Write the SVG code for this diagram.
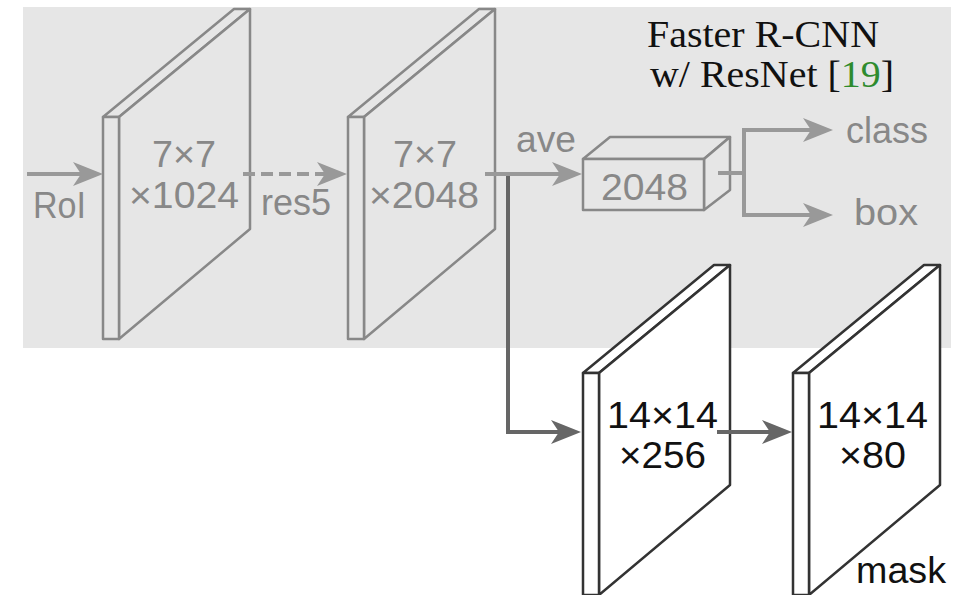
<svg xmlns="http://www.w3.org/2000/svg" width="961" height="595" viewBox="0 0 961 595">
<style>
  .bg { fill: #e6e6e6; }
  .slabG { fill: #e6e6e6; stroke: #888; stroke-width: 2.5; stroke-linejoin: round; }
  .slabW { fill: #ffffff; stroke: #333; stroke-width: 2.5; stroke-linejoin: round; }
  .boxG { fill: #e6e6e6; stroke: #888; stroke-width: 2.5; stroke-linejoin: round; }
  .tg { font-family: "Liberation Sans", Arial, sans-serif; font-size: 36px; fill: #888; }
  .tk { font-family: "Liberation Sans", Arial, sans-serif; font-size: 36px; fill: #111; }
  .title { font-family: "Liberation Serif", "Times New Roman", serif; font-size: 37px; fill: #111; }
  .lg { fill: none; stroke: #999; stroke-width: 4; }
  .ld { fill: none; stroke: #666; stroke-width: 4; }
</style>
<defs>
  <marker id="ahG" markerUnits="userSpaceOnUse" viewBox="0 0 30 24" markerWidth="30" markerHeight="24" refX="8" refY="12" orient="auto">
    <path d="M0,0 L30,12 L0,24 L8,12 Z" fill="#999"/>
  </marker>
  <marker id="ahD" markerUnits="userSpaceOnUse" viewBox="0 0 30 24" markerWidth="30" markerHeight="24" refX="8" refY="12" orient="auto">
    <path d="M0,0 L30,12 L0,24 L8,12 Z" fill="#666"/>
  </marker>
  <g id="slabShape">
    <polygon points="0,0 16,0 147,-108 131,-108"/>
    <polygon points="16,0 147,-108 147,112 16,222"/>
    <rect x="0" y="0" width="16" height="222"/>
  </g>
</defs>

<rect class="bg" x="23" y="7" width="928" height="341"/>

<g id="title">
  <text class="title"><tspan x="647" y="47" textLength="232" lengthAdjust="spacingAndGlyphs">Faster R-CNN</tspan><tspan x="650" y="87" textLength="244" lengthAdjust="spacingAndGlyphs">w/ ResNet [<tspan fill="#2e8b2e">19</tspan>]</tspan></text>
</g>

<g id="slab1">
  <use href="#slabShape" class="slabG" transform="translate(103,117)"/>
  <text class="tg"><tspan x="152" y="167" textLength="64" lengthAdjust="spacingAndGlyphs">7×7</tspan><tspan x="129" y="208" textLength="110" lengthAdjust="spacingAndGlyphs">×1024</tspan></text>
</g>

<g id="slab2">
  <use href="#slabShape" class="slabG" transform="translate(348,117)"/>
  <text class="tg"><tspan x="393" y="167" textLength="64" lengthAdjust="spacingAndGlyphs">7×7</tspan><tspan x="369" y="208" textLength="110" lengthAdjust="spacingAndGlyphs">×2048</tspan></text>
</g>

<g id="vec2048">
  <polygon class="boxG" points="583,159 610,137 730,137 704,159"/>
  <polygon class="boxG" points="704,159 730,137 730,190 704,210"/>
  <rect class="boxG" x="583" y="159" width="121" height="51"/>
  <text class="tg" x="601" y="200" textLength="87" lengthAdjust="spacingAndGlyphs">2048</text>
</g>

<g id="slab3">
  <use href="#slabShape" class="slabW" transform="translate(583,373)"/>
  <text class="tk"><tspan x="607" y="428" textLength="111" lengthAdjust="spacingAndGlyphs">14×14</tspan><tspan x="619" y="468" textLength="87" lengthAdjust="spacingAndGlyphs">×256</tspan></text>
</g>

<g id="slab4">
  <use href="#slabShape" class="slabW" transform="translate(793,373)"/>
  <text class="tk"><tspan x="817" y="428" textLength="111" lengthAdjust="spacingAndGlyphs">14×14</tspan><tspan x="839" y="468" textLength="67" lengthAdjust="spacingAndGlyphs">×80</tspan></text>
  <text class="tk" x="856" y="583" textLength="90" lengthAdjust="spacingAndGlyphs">mask</text>
</g>

<g id="connectors">
  <line class="lg" x1="27" y1="174" x2="81" y2="174" marker-end="url(#ahG)"/>
  <line class="lg" x1="243" y1="174" x2="325" y2="174" stroke-dasharray="12 6" marker-end="url(#ahG)"/>
  <line class="lg" x1="485" y1="174" x2="560" y2="174" marker-end="url(#ahG)"/>
  <polyline class="ld" points="508,176 508,432 559,432" marker-end="url(#ahD)"/>
  <line class="ld" x1="717" y1="432" x2="770" y2="432" marker-end="url(#ahD)"/>
  <line class="lg" x1="718" y1="173" x2="744" y2="173"/>
  <polyline class="lg" points="811,130 744,130 744,215 811,215"/>
  <line class="lg" x1="744" y1="130" x2="811" y2="130" marker-end="url(#ahG)"/>
  <line class="lg" x1="744" y1="215" x2="811" y2="215" marker-end="url(#ahG)"/>
  <text class="tg" x="33" y="218" textLength="53" lengthAdjust="spacingAndGlyphs">RoI</text>
  <text class="tg" x="261" y="215" textLength="70" lengthAdjust="spacingAndGlyphs">res5</text>
  <text class="tg" x="516" y="152" textLength="60" lengthAdjust="spacingAndGlyphs">ave</text>
  <text class="tg" x="846" y="143" textLength="82" lengthAdjust="spacingAndGlyphs">class</text>
  <text class="tg" x="854" y="225" textLength="64" lengthAdjust="spacingAndGlyphs">box</text>
</g>
</svg>
